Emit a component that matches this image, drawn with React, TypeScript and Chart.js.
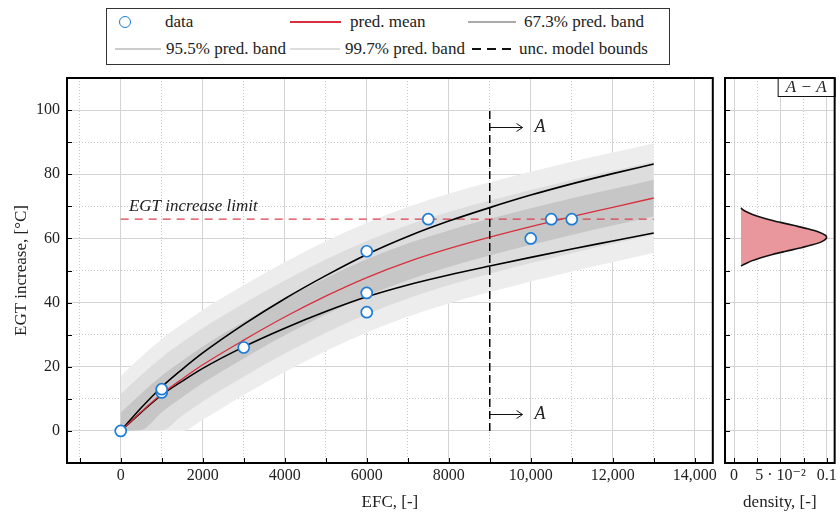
import React, { useEffect, useRef } from "react";
import { Chart, registerables } from "chart.js";

Chart.register(...registerables);

const FONT = '"Liberation Serif", "DejaVu Serif", serif';

// ---- prediction curves (EFC grid) ----
const EFC_GRID = [0, 500, 1000, 1500, 2000, 3000, 4000, 5000, 6000, 7000, 8000, 9000, 10000, 11000, 12000, 13000];
const PRED_MEAN = [0, 6.0, 11.5, 16.2, 20.6, 28.3, 35.5, 42.0, 47.8, 52.7, 56.8, 60.4, 63.7, 66.8, 69.7, 72.6];
const MODEL_UPPER = [0, 7.2, 13.7, 19.2, 24.3, 33.2, 41.2, 48.4, 55.0, 60.6, 65.4, 69.6, 73.5, 77.0, 80.2, 83.2];
const MODEL_LOWER = [0, 5.8, 11.2, 15.5, 19.5, 26.2, 32.0, 37.2, 41.8, 45.5, 48.6, 51.4, 54.1, 56.7, 59.2, 61.7];
const BAND67_UPPER = [5.7, 11.7, 17.2, 21.9, 26.3, 34.0, 41.2, 47.7, 53.5, 58.4, 62.5, 66.1, 69.4, 72.5, 75.4, 78.3];
const BAND67_LOWER = [0, 0.3, 5.8, 10.5, 14.9, 22.6, 29.8, 36.3, 42.1, 47.0, 51.1, 54.7, 58.0, 61.1, 64.0, 66.9];
const BAND95_UPPER = [11.4, 17.4, 22.9, 27.6, 32.0, 39.7, 46.9, 53.4, 59.2, 64.1, 68.2, 71.8, 75.1, 78.2, 81.1, 84.0];
const BAND95_LOWER = [0, 0, 0.1, 4.8, 9.2, 16.9, 24.1, 30.6, 36.4, 41.3, 45.4, 49.0, 52.3, 55.4, 58.3, 61.2];
const BAND99_UPPER = [17.1, 23.1, 28.6, 33.3, 37.7, 45.4, 52.6, 59.1, 64.9, 69.8, 73.9, 77.5, 80.8, 83.9, 86.8, 89.7];
const BAND99_LOWER = [0, 0, 0, 0, 3.5, 11.2, 18.4, 24.9, 30.7, 35.6, 39.7, 43.3, 46.6, 49.7, 52.6, 55.5];

// ---- observed data ----
const DATA_EFC = [0, 1000, 1000, 3000, 6000, 6000, 6000, 7500, 10000, 10500, 11000];
const DATA_EGT = [0, 12, 13, 26, 56, 43, 37, 66, 60, 66, 66];

// ---- limit & section ----
const EGT_LIMIT = 66;
const LIMIT_EFC_RANGE = [0, 13000];
const LIMIT_LABEL = "EGT increase limit";
const LIMIT_LABEL_POS = [200, 68.4];
const SECTION_EFC = 9000;
const SECTION_EGT_RANGE = [0, 100];
const SECTION_ARROW_EGT = [94.7, 5.3];
const SECTION_ARROW_END = 9800;
const SECTION_LABEL = "A";

// ---- density at section A-A ----
const DENSITY_EGT = [51.4, 52, 53, 54, 55, 56, 57, 58, 59, 60, 60.3, 61, 62, 63, 64, 65, 66, 67, 68, 69, 69.5];
const DENSITY_VALUES = [0.0075, 0.0116, 0.0189, 0.0289, 0.0414, 0.0559, 0.071, 0.0845, 0.0946, 0.0994, 0.0997, 0.0982, 0.0911, 0.0794, 0.065, 0.05, 0.0361, 0.0245, 0.0157, 0.0094, 0.0075];
const DENSITY_FLOOR = 0.0075;

// ---- ticks ----
const X_GRID_VALUES = [-1000, 0, 1000, 2000, 3000, 4000, 5000, 6000, 7000, 8000, 9000, 10000, 11000, 12000, 13000, 14000];
const X_TICKS = [0, 2000, 4000, 6000, 8000, 10000, 12000, 14000];
const X_TICK_LABELS = ["0", "2000", "4000", "6000", "8000", "10,000", "12,000", "14,000"];
const Y_GRID_VALUES = [-10, 0, 10, 20, 30, 40, 50, 60, 70, 80, 90, 100, 110];
const Y_TICKS = [0, 20, 40, 60, 80, 100];
const Y_TICK_LABELS = ["0", "20", "40", "60", "80", "100"];
const D_GRID_VALUES = [0, 0.025, 0.05, 0.075, 0.1];
const D_TICKS = [0, 0.05, 0.1];
const D_TICK_LABELS = ["0", "5 · 10⁻²", "0.1"];

const pts = (xs: number[], ys: number[]) => xs.map((x, i) => ({ x, y: ys[i] }));
const findTick = (arr: number[], v: number, eps: number) => arr.findIndex((a) => Math.abs(a - v) < eps);

const labelCb = (ticks: number[], labels: string[], eps: number) => (v: any) => {
  const i = findTick(ticks, Number(v), eps);
  return i >= 0 ? labels[i] : "";
};
const gridColor = (ticks: number[], eps: number) => (ctx: any) =>
  ctx.tick && findTick(ticks, ctx.tick.value, eps) >= 0 ? "#d3d3d3" : "#c8c8c8";
const gridDash = (ticks: number[], eps: number) => (ctx: any) =>
  ctx.tick && findTick(ticks, ctx.tick.value, eps) < 0 ? [1, 2] : [];
const fixedTicks = (values: number[]) => (s: any) => {
  s.ticks = values.map((value) => ({ value }));
};

const frameTicks = {
  id: "frameTicks",
  afterDraw(chart: any) {
    const { ctx, chartArea: a, scales } = chart;
    ctx.save();
    ctx.strokeStyle = "#000";
    ctx.lineWidth = 1;
    ctx.beginPath();
    scales.x.ticks.forEach((t: any) => {
      const px = Math.round(scales.x.getPixelForValue(t.value)) + 0.5;
      ctx.moveTo(px, a.bottom);
      ctx.lineTo(px, a.bottom - 5);
    });
    scales.y.ticks.forEach((t: any) => {
      const py = Math.round(scales.y.getPixelForValue(t.value)) + 0.5;
      ctx.moveTo(a.left, py);
      ctx.lineTo(a.left + 5, py);
    });
    ctx.stroke();
    ctx.lineWidth = 2;
    ctx.strokeRect(a.left, a.top, a.right - a.left, a.bottom - a.top);
    ctx.restore();
  },
};

const mainDecor = {
  id: "mainDecor",
  afterDatasetsDraw(chart: any) {
    const { ctx, scales } = chart;
    const x = scales.x;
    const y = scales.y;
    ctx.save();
    ctx.fillStyle = "#222";
    ctx.font = `italic 17px ${FONT}`;
    ctx.textAlign = "left";
    ctx.textBaseline = "alphabetic";
    ctx.fillText(LIMIT_LABEL, x.getPixelForValue(LIMIT_LABEL_POS[0]), y.getPixelForValue(LIMIT_LABEL_POS[1]));
    ctx.strokeStyle = "#111";
    ctx.lineWidth = 1;
    ctx.font = `italic 18px ${FONT}`;
    ctx.textBaseline = "middle";
    SECTION_ARROW_EGT.forEach((v) => {
      const x0 = x.getPixelForValue(SECTION_EFC);
      const x1 = x.getPixelForValue(SECTION_ARROW_END);
      const py = Math.round(y.getPixelForValue(v)) + 0.5;
      ctx.beginPath();
      ctx.moveTo(x0, py);
      ctx.lineTo(x1, py);
      ctx.moveTo(x1 - 6, py - 4);
      ctx.lineTo(x1, py);
      ctx.lineTo(x1 - 6, py + 4);
      ctx.stroke();
      ctx.fillText(SECTION_LABEL, x1 + 12, py);
    });
    ctx.restore();
  },
};

const densDecor = {
  id: "densDecor",
  afterDraw(chart: any) {
    const { ctx, chartArea: a } = chart;
    ctx.save();
    const w = 57;
    const h = 18;
    ctx.fillStyle = "#fff";
    ctx.fillRect(a.right - w, a.top, w, h);
    ctx.strokeStyle = "#111";
    ctx.lineWidth = 1;
    ctx.strokeRect(a.right - w + 0.5, a.top + 0.5, w, h);
    ctx.fillStyle = "#222";
    ctx.font = `italic 17px ${FONT}`;
    ctx.textAlign = "center";
    ctx.textBaseline = "middle";
    ctx.fillText("A − A", a.right - w / 2, a.top + h / 2 + 1);
    ctx.restore();
  },
};

const tickFont = { family: FONT, size: 16 };
const titleFont = { family: FONT, size: 17 };

const lineDs = (label: string, xs: number[], ys: number[], extra: any) => ({
  label,
  data: pts(xs, ys),
  pointRadius: 0,
  pointHoverRadius: 0,
  borderWidth: 1.5,
  cubicInterpolationMode: "monotone",
  fill: false,
  ...extra,
});

const yScale = (showLabels: boolean, width: number) => ({
  type: "linear",
  min: -10,
  max: 110,
  afterFit: (s: any) => {
    s.width = width;
  },
  afterBuildTicks: fixedTicks(Y_GRID_VALUES),
  ticks: {
    display: showLabels,
    autoSkip: false,
    padding: 7,
    color: "#222",
    font: tickFont,
    callback: labelCb(Y_TICKS, Y_TICK_LABELS, 0.01),
  },
  grid: { drawTicks: false, color: gridColor(Y_TICKS, 0.01), lineWidth: 1 },
  border: { display: false, dash: gridDash(Y_TICKS, 0.01) },
  title: showLabels
    ? { display: true, text: "EGT increase, [°C]", font: titleFont, color: "#222", padding: { top: 11, bottom: 0 } }
    : { display: false },
});

function LegendBox() {
  const row1 = 22;
  const row2 = 49;
  const text = (label: string, left: number, top: number) => (
    <div style={{ position: "absolute", left, top: top - 12, fontSize: 17, lineHeight: "24px", color: "#222", whiteSpace: "nowrap" }}>{label}</div>
  );
  const line = (left: number, width: number, top: number, color: string) => (
    <div style={{ position: "absolute", left, top: top - 1, width, height: 1.5, background: color }} />
  );
  const dashes = (left: number, top: number) =>
    [0, 15, 30].map((o) => (
      <div key={o} style={{ position: "absolute", left: left + o, top: top - 1, width: 9, height: 2, background: "#111" }} />
    ));
  return (
    <div style={{ position: "absolute", left: 0, top: 0, width: 840, height: 70, pointerEvents: "none", fontFamily: FONT }}>
      <div style={{ position: "absolute", left: 106, top: 8, width: 562, height: 55, border: "1px solid #333", background: "#fff" }} />
      <div style={{ position: "absolute", left: 119, top: row1 - 6, width: 10, height: 10, borderRadius: "50%", border: "1.7px solid #1d7dd6", background: "#fff" }} />
      {text("data", 165, row1)}
      {line(290, 51, row1, "#d7303c")}
      {text("pred. mean", 350, row1)}
      {line(468, 48, row1, "#aaaaaa")}
      {text("67.3% pred. band", 524, row1)}
      {line(115, 46, row2, "#cccccc")}
      {text("95.5% pred. band", 166, row2)}
      {line(290, 50, row2, "#dddddd")}
      {text("99.7% pred. band", 345, row2)}
      {dashes(472, row2)}
      {text("unc. model bounds", 519, row2)}
    </div>
  );
}

export default function App() {
  const mainRef = useRef<HTMLCanvasElement>(null);
  const densRef = useRef<HTMLCanvasElement>(null);

  useEffect(() => {
    const noBorder = { borderColor: "transparent", borderWidth: 0 };
    const main = new Chart(mainRef.current as HTMLCanvasElement, {
      type: "line",
      data: {
        datasets: [
          lineDs("99.7% upper", EFC_GRID, BAND99_UPPER, { ...noBorder, fill: "+1", backgroundColor: "#ededed", order: 10 }),
          lineDs("99.7% lower", EFC_GRID, BAND99_LOWER, { ...noBorder, order: 10 }),
          lineDs("95.5% upper", EFC_GRID, BAND95_UPPER, { ...noBorder, fill: "+1", backgroundColor: "#dddddd", order: 9 }),
          lineDs("95.5% lower", EFC_GRID, BAND95_LOWER, { ...noBorder, order: 9 }),
          lineDs("67.3% upper", EFC_GRID, BAND67_UPPER, { ...noBorder, fill: "+1", backgroundColor: "#c6c6c6", order: 8 }),
          lineDs("67.3% lower", EFC_GRID, BAND67_LOWER, { ...noBorder, order: 8 }),
          lineDs("limit", LIMIT_EFC_RANGE, [EGT_LIMIT, EGT_LIMIT], {
            borderColor: "#d9424c",
            borderWidth: 1.3,
            borderDash: [8, 6],
            cubicInterpolationMode: "default",
            order: 5,
          }),
          lineDs("unc. upper", EFC_GRID, MODEL_UPPER, { borderColor: "#000", borderWidth: 1.6, order: 4 }),
          lineDs("unc. lower", EFC_GRID, MODEL_LOWER, { borderColor: "#000", borderWidth: 1.6, order: 4 }),
          lineDs("pred. mean", EFC_GRID, PRED_MEAN, { borderColor: "#d7303c", borderWidth: 1.3, order: 3 }),
          lineDs("section", [SECTION_EFC, SECTION_EFC], SECTION_EGT_RANGE, {
            borderColor: "#000",
            borderWidth: 1.5,
            borderDash: [8, 4],
            cubicInterpolationMode: "default",
            order: 2,
          }),
          {
            label: "data",
            data: pts(DATA_EFC, DATA_EGT),
            showLine: false,
            pointRadius: 5.5,
            pointHoverRadius: 5.5,
            pointBorderWidth: 1.7,
            pointBackgroundColor: "#fff",
            pointBorderColor: "#1d7dd6",
            order: 0,
          },
        ],
      },
      options: {
        animation: false,
        responsive: false,
        devicePixelRatio: 1,
        events: [],
        layout: { padding: { top: 78, right: 5, left: 0, bottom: 0 } },
        plugins: { legend: { display: false }, tooltip: { enabled: false } },
        scales: {
          x: {
            type: "linear",
            min: -1310,
            max: 14440,
            afterFit: (s: any) => {
              s.height = 53;
            },
            afterBuildTicks: fixedTicks(X_GRID_VALUES),
            ticks: {
              autoSkip: false,
              maxRotation: 0,
              padding: 3,
              color: "#222",
              font: tickFont,
              callback: labelCb(X_TICKS, X_TICK_LABELS, 1),
            },
            grid: { drawTicks: false, color: gridColor(X_TICKS, 1), lineWidth: 1 },
            border: { display: false, dash: gridDash(X_TICKS, 1) },
            title: { display: true, text: "EFC, [-]", font: titleFont, color: "#222", padding: { top: 0, bottom: 3 } },
          },
          y: yScale(true, 67),
        },
      } as any,
      plugins: [mainDecor, frameTicks],
    } as any);

    const dens = new Chart(densRef.current as HTMLCanvasElement, {
      type: "line",
      data: {
        datasets: [
          {
            label: "density",
            data: pts(DENSITY_VALUES, DENSITY_EGT),
            borderColor: "#111",
            borderWidth: 1.6,
            backgroundColor: "#e9979c",
            fill: { value: DENSITY_FLOOR },
            pointRadius: 0,
            pointHoverRadius: 0,
            cubicInterpolationMode: "monotone",
          },
        ],
      },
      options: {
        animation: false,
        responsive: false,
        devicePixelRatio: 1,
        events: [],
        indexAxis: "y",
        layout: { padding: { top: 78, right: 2, left: 0, bottom: 0 } },
        plugins: { legend: { display: false }, tooltip: { enabled: false } },
        scales: {
          x: {
            type: "linear",
            position: "bottom",
            min: -0.0097,
            max: 0.1084,
            afterFit: (s: any) => {
              s.height = 53;
            },
            afterBuildTicks: fixedTicks(D_GRID_VALUES),
            ticks: {
              autoSkip: false,
              maxRotation: 0,
              padding: 3,
              color: "#222",
              font: tickFont,
              callback: labelCb(D_TICKS, D_TICK_LABELS, 1e-4),
            },
            grid: { drawTicks: false, color: gridColor(D_TICKS, 1e-4), lineWidth: 1 },
            border: { display: false, dash: gridDash(D_TICKS, 1e-4) },
            title: { display: true, text: "density, [-]", font: titleFont, color: "#222", padding: { top: 0, bottom: 3 } },
          },
          y: { ...yScale(false, 5), position: "left" },
        },
      } as any,
      plugins: [densDecor, frameTicks],
    } as any);

    return () => {
      main.destroy();
      dens.destroy();
    };
  }, []);

  return (
    <div style={{ position: "absolute", left: 0, top: 0, width: 840, height: 516, background: "#fff", overflow: "hidden" }}>
      <canvas ref={mainRef} width={720} height={516} style={{ position: "absolute", left: 0, top: 0 }} />
      <canvas ref={densRef} width={120} height={516} style={{ position: "absolute", left: 720, top: 0 }} />
      <LegendBox />
    </div>
  );
}
